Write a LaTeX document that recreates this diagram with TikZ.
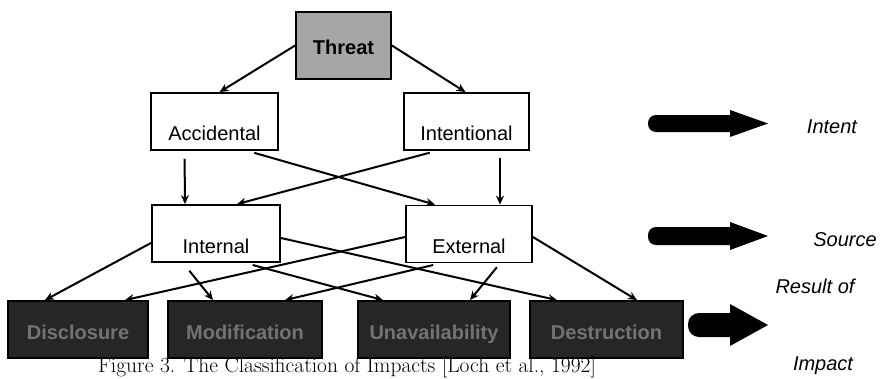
\documentclass[tikz,border=0pt]{standalone}
\usepackage{fontspec}
\newfontfamily\arialf{Liberation Sans}
\usetikzlibrary{arrows.meta}

\begin{document}
\begin{tikzpicture}[x=1pt,y=-1pt,->,>={Stealth[length=9pt,width=8pt]},line width=2pt,
    box/.style={draw,line width=1.8pt,inner sep=0pt,
                font=\arialf\fontsize{20}{24}\selectfont},
    threatbox/.style={box,fill=black!35,font=\arialf\bfseries\fontsize{20}{24}\selectfont,
                      minimum width=95pt,text height=42pt,text depth=25pt},
    midbox/.style={box,fill=white,text height=47pt,text depth=10pt},
    impbox/.style={box,fill=black!85,text=black!55,
                   font=\arialf\bfseries\fontsize{20}{24}\selectfont,
                   text height=38pt,text depth=19pt},
    lab/.style={font=\arialf\itshape\fontsize{20}{24}\selectfont},
    bigarrow/.style={fill=black,draw=none}]

  \useasboundingbox (0,0) rectangle (891,378);
  \clip (0,0) rectangle (891,378);

  % the tree
  \node[threatbox]                           (thr)  at (343.5,45.5) {Threat};
  \node[midbox,minimum width=127pt]          (acc)  at (214.5,121.5) {Accidental};
  \node[midbox,minimum width=125pt]          (intl) at (466.5,121.5) {Intentional};
  \node[midbox,minimum width=128pt,
        text height=48pt,text depth=9pt]     (inl)  at (216,233.5) {Internal};
  \node[midbox,minimum width=126pt,
        text height=48pt,text depth=9pt]     (ext)  at (469,234) {External};
  \node[impbox,minimum width=140pt]          (dis)  at (78,329.5) {Disclosure};
  \node[impbox,minimum width=154pt]          (mod)  at (245,329.5) {Modification};
  \node[impbox,minimum width=152pt]          (una)  at (434,329.5) {Unavailability};
  \node[impbox,minimum width=153pt]          (des)  at (606.5,329.5) {Destruction};

  \path (thr.west) edge ([xshift=5pt]acc.north)
        (thr.east) edge ([xshift=-1pt]intl.north)
        ([xshift=-30pt]acc.south)  edge [shorten <=8pt] ([xshift=-31pt]inl.north)
        ([xshift=33pt]acc.south)   edge [shorten <=7pt] ([xshift=-34pt]ext.north)
        ([xshift=-30pt]intl.south) edge [shorten <=7pt] ([xshift=21pt]inl.north)
        ([xshift=33.5pt]intl.south) edge [shorten <=7pt] ([xshift=31pt]ext.north);

  \path ([yshift=20pt]inl.south west) edge ([xshift=-33pt]dis.north)
        ([xshift=-33pt]inl.south)     edge [shorten <=10pt] ([xshift=-32pt]mod.north)
        ([xshift=29pt]inl.south)      edge [shorten <=8pt] ([xshift=-51pt]una.north)
        ([yshift=-4.5pt]inl.east)     edge ([xshift=-49.5pt]des.north)
        ([yshift=-3pt]ext.west)       edge ([xshift=47pt]dis.north)
        ([xshift=-29pt]ext.south)     edge [shorten <=7pt] ([xshift=40pt]mod.north)
        ([xshift=31pt]ext.south)      edge [shorten <=5pt] ([xshift=36pt]una.north)
        ([yshift=-3pt]ext.east)       edge ([xshift=30.5pt]des.north);

  % block arrows and their labels
  \fill[bigarrow] (730,110) -- (768,123.5) -- (730,137) -- (730,132)
        [rounded corners=8pt] -- (648,132) -- (648,115) [sharp corners] -- (730,115) -- cycle;
  \fill[bigarrow] (730,222) -- (768,236) -- (730,250) -- (730,245)
        [rounded corners=8pt] -- (648,245) -- (648,227) [sharp corners] -- (730,227) -- cycle;
  \fill[bigarrow] (730,304) -- (768,325) -- (730,346) -- (730,337)
        [rounded corners=11pt] -- (688,337) -- (688,313) [sharp corners] -- (730,313) -- cycle;

  \node[lab] (lint) at (832,127) {Intent};
  \node[lab] (lsrc) at (845,240) {Source};
  \node[lab] (lres) at (815,286) {Result of};
  \node[lab] (limp) at (823,366) {Impact};

  \node[anchor=base,font=\fontsize{21.5}{24}\selectfont] (cap) at (347,372)
        {Figure 3. The Classification of Impacts [Loch et al., 1992]};
\end{tikzpicture}
\end{document}
